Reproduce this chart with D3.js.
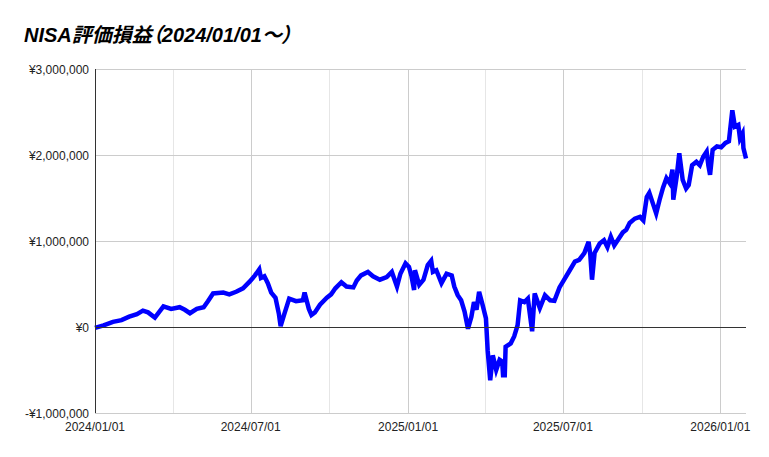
<!DOCTYPE html>
<html>
<head>
<meta charset="utf-8">
<script src="https://cdn.jsdelivr.net/npm/d3@7"></script>
<style>
  body { margin: 0; background: #fff; }
  svg { display: block; }
  .title { font-feature-settings: "palt"; }
</style>
</head>
<body>
<div id="chart-area"></div>
<script>
const titleText = 'NISA評価損益（2024/01/01～）';

const dates = [
  '2024-01-01', '2024-01-11', '2024-01-22',
  '2024-02-01', '2024-02-10', '2024-02-19', '2024-02-26',
  '2024-03-03', '2024-03-11', '2024-03-21', '2024-03-30',
  '2024-04-09', '2024-04-15', '2024-04-21', '2024-04-29',
  '2024-05-07', '2024-05-12', '2024-05-18', '2024-05-30',
  '2024-06-06', '2024-06-14', '2024-06-22', '2024-06-30',
  '2024-07-06', '2024-07-11', '2024-07-13', '2024-07-17', '2024-07-21', '2024-07-25', '2024-07-30',
  '2024-08-03', '2024-08-05', '2024-08-09', '2024-08-15', '2024-08-23', '2024-08-31',
  '2024-09-02', '2024-09-07', '2024-09-10', '2024-09-14', '2024-09-20', '2024-09-28',
  '2024-10-03', '2024-10-08', '2024-10-15', '2024-10-21', '2024-10-29',
  '2024-11-02', '2024-11-07', '2024-11-15', '2024-11-21', '2024-11-29',
  '2024-12-07', '2024-12-13', '2024-12-19', '2024-12-23', '2024-12-29',
  '2025-01-02', '2025-01-05', '2025-01-08', '2025-01-09', '2025-01-14', '2025-01-19', '2025-01-24', '2025-01-28', '2025-01-30',
  '2025-02-03', '2025-02-09', '2025-02-15', '2025-02-21', '2025-02-24', '2025-02-28',
  '2025-03-04', '2025-03-08', '2025-03-12', '2025-03-16', '2025-03-19', '2025-03-22', '2025-03-25', '2025-03-29',
  '2025-04-02', '2025-04-04', '2025-04-07', '2025-04-10', '2025-04-14', '2025-04-18', '2025-04-21', '2025-04-22', '2025-04-24', '2025-04-25',
  '2025-05-01', '2025-05-05', '2025-05-09', '2025-05-12', '2025-05-17', '2025-05-21', '2025-05-26', '2025-05-29',
  '2025-06-04', '2025-06-10', '2025-06-16', '2025-06-21', '2025-06-27',
  '2025-07-03', '2025-07-09', '2025-07-15', '2025-07-20', '2025-07-26', '2025-07-31',
  '2025-08-02', '2025-08-04', '2025-08-07', '2025-08-13', '2025-08-18', '2025-08-22', '2025-08-26', '2025-08-30',
  '2025-09-03', '2025-09-09', '2025-09-13', '2025-09-17', '2025-09-23', '2025-09-29',
  '2025-10-03', '2025-10-07', '2025-10-10', '2025-10-14', '2025-10-18', '2025-10-22', '2025-10-26', '2025-10-30',
  '2025-11-03', '2025-11-06', '2025-11-07', '2025-11-11', '2025-11-14', '2025-11-18', '2025-11-22', '2025-11-25', '2025-11-29',
  '2025-12-04', '2025-12-08', '2025-12-12', '2025-12-16', '2025-12-18', '2025-12-20', '2025-12-23', '2025-12-28',
  '2026-01-02', '2026-01-07', '2026-01-11', '2026-01-15', '2026-01-18', '2026-01-22', '2026-01-24', '2026-01-27', '2026-01-28', '2026-01-31'
];

// 評価損益 (円)
const values = [
  -10000, 20000, 60000,
  80000, 120000, 150000, 190000,
  170000, 110000, 240000, 210000,
  230000, 200000, 160000, 210000,
  230000, 300000, 390000, 400000,
  380000, 410000, 450000, 530000,
  600000, 670000, 570000, 590000, 510000, 400000, 340000,
  150000, 10000, 140000, 330000, 300000, 310000,
  400000, 210000, 140000, 170000, 260000, 340000,
  380000, 450000, 520000, 470000, 460000,
  540000, 600000, 640000, 590000, 550000,
  580000, 640000, 470000, 620000, 740000,
  700000, 590000, 430000, 660000, 490000, 550000, 720000, 770000, 640000,
  660000, 510000, 620000, 600000, 470000, 370000,
  310000, 180000, -20000, 120000, 290000, 200000, 410000, 260000,
  100000, -270000, -620000, -330000, -500000, -380000, -400000, -560000, -560000, -230000,
  -190000, -110000, 20000, 310000, 290000, 330000, -50000, 390000,
  220000, 370000, 310000, 305000, 460000,
  560000, 660000, 760000, 780000, 860000, 990000,
  840000, 550000, 860000, 970000, 1010000, 930000, 1050000, 950000,
  1010000, 1100000, 1130000, 1210000, 1260000, 1280000,
  1240000, 1510000, 1560000, 1440000, 1320000, 1480000, 1620000, 1730000,
  1670000, 1830000, 1480000, 1750000, 2020000, 1710000, 1610000, 1650000, 1880000,
  1920000, 1880000, 1980000, 2040000, 1880000, 1770000, 2060000, 2100000,
  2090000, 2140000, 2160000, 2520000, 2330000, 2350000, 2190000, 2250000, 2080000, 1960000
];

const yTicks = [-1000000, 0, 1000000, 2000000, 3000000];
const xLabelDates = ['2024-01-01', '2024-07-01', '2025-01-01', '2025-07-01', '2026-01-01'];
const xMinorDates = ['2024-04-01', '2024-10-01', '2025-04-01', '2025-10-01'];

const widthSvg = 769;
const heightSvg = 457;
const plot = { left: 95, right: 746, top: 69, bottom: 413 };
const font = 'Arial, "Liberation Sans", "Noto Sans CJK JP", sans-serif';

const parseDate = d3.timeParse('%Y-%m-%d');
const data = dates.map((d, i) => ({ date: parseDate(d), value: values[i] }));

const scaleX = d3.scaleTime()
  .domain([parseDate('2024-01-01'), d3.max(data, d => d.date)])
  .range([plot.left, plot.right]);

const scaleY = d3.scaleLinear()
  .domain([-1000000, 3000000])
  .range([plot.bottom, plot.top]);

const yen = v => (v < 0 ? '-¥' : '¥') + d3.format(',')(Math.abs(v));

const svg = d3.select('#chart-area')
  .append('svg')
    .attr('width', widthSvg)
    .attr('height', heightSvg);

svg.append('text')
  .attr('class', 'title')
  .attr('x', 24)
  .attr('y', 42)
  .attr('font-family', font)
  .attr('font-size', 20)
  .attr('font-weight', 'bold')
  .attr('font-style', 'italic')
  .attr('fill', '#000')
  .text(titleText);

// minor vertical grid (quarters)
svg.append('g')
  .selectAll('line')
  .data(xMinorDates.map(parseDate))
  .join('line')
    .attr('x1', d => Math.round(scaleX(d)) + 0.5)
    .attr('x2', d => Math.round(scaleX(d)) + 0.5)
    .attr('y1', plot.top)
    .attr('y2', plot.bottom)
    .attr('stroke', '#e6e6e6');

// major vertical grid (half years)
svg.append('g')
  .selectAll('line')
  .data(xLabelDates.slice(1).map(parseDate))
  .join('line')
    .attr('x1', d => Math.round(scaleX(d)) + 0.5)
    .attr('x2', d => Math.round(scaleX(d)) + 0.5)
    .attr('y1', plot.top)
    .attr('y2', plot.bottom)
    .attr('stroke', '#cccccc');

// horizontal grid
svg.append('g')
  .selectAll('line')
  .data(yTicks.filter(v => v !== 0))
  .join('line')
    .attr('x1', plot.left)
    .attr('x2', plot.right)
    .attr('y1', d => Math.round(scaleY(d)) + 0.5)
    .attr('y2', d => Math.round(scaleY(d)) + 0.5)
    .attr('stroke', '#cccccc');

// y labels
svg.append('g')
  .selectAll('text')
  .data(yTicks)
  .join('text')
    .attr('x', plot.left - 6)
    .attr('y', d => scaleY(d) + 4.5)
    .attr('text-anchor', 'end')
    .attr('font-family', font)
    .attr('font-size', 12)
    .attr('fill', '#222')
    .text(yen);

// x labels
svg.append('g')
  .selectAll('text')
  .data(xLabelDates.map(parseDate))
  .join('text')
    .attr('x', d => scaleX(d))
    .attr('y', 431)
    .attr('text-anchor', 'middle')
    .attr('font-family', font)
    .attr('font-size', 12)
    .attr('fill', '#222')
    .text(d3.timeFormat('%Y/%m/%d'));

// series
const line = d3.line()
  .x(d => scaleX(d.date))
  .y(d => scaleY(d.value));

svg.append('path')
  .datum(data)
  .attr('d', line)
  .attr('fill', 'none')
  .attr('stroke', '#0000ff')
  .attr('stroke-width', 4.5);

// baseline at zero and left axis
svg.append('line')
  .attr('x1', plot.left)
  .attr('x2', plot.right)
  .attr('y1', Math.round(scaleY(0)) + 0.5)
  .attr('y2', Math.round(scaleY(0)) + 0.5)
  .attr('stroke', '#333');

svg.append('line')
  .attr('x1', plot.left + 0.5)
  .attr('x2', plot.left + 0.5)
  .attr('y1', plot.top)
  .attr('y2', plot.bottom)
  .attr('stroke', '#333');
</script>
</body>
</html>
